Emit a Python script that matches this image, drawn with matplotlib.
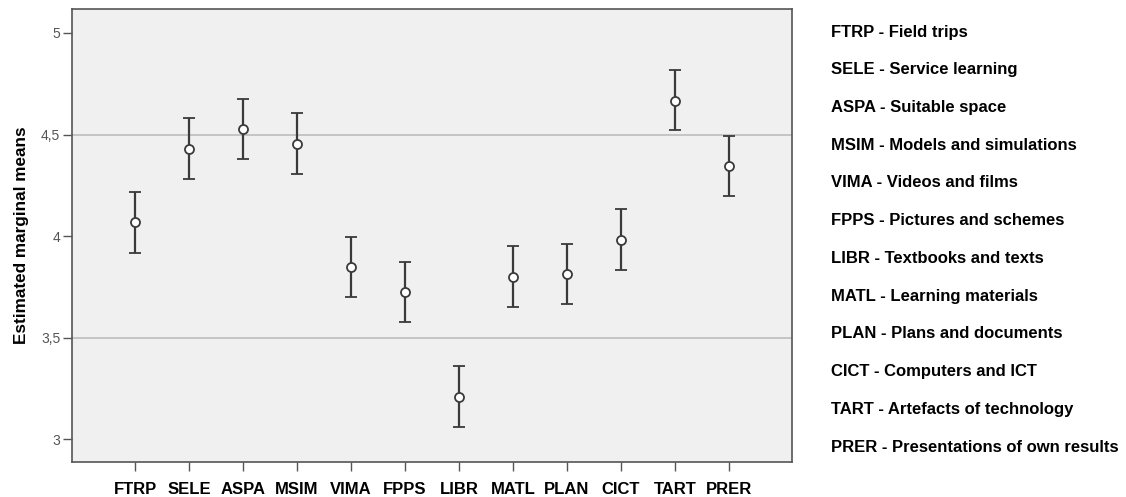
import matplotlib
matplotlib.use("Agg")
import matplotlib.pyplot as plt
import numpy as np

categories = ["FTRP", "SELE", "ASPA", "MSIM", "VIMA", "FPPS", "LIBR", "MATL", "PLAN", "CICT", "TART", "PRER"]
descriptions = ["Field trips", "Service learning", "Suitable space", "Models and simulations",
                "Videos and films", "Pictures and schemes", "Textbooks and texts", "Learning materials",
                "Plans and documents", "Computers and ICT", "Artefacts of technology",
                "Presentations of own results"]
means = [4.067, 4.428, 4.527, 4.454, 3.848, 3.725, 3.210, 3.801, 3.815, 3.982, 4.667, 4.346]
lower = [3.916, 4.280, 4.379, 4.305, 3.698, 3.575, 3.062, 3.651, 3.665, 3.834, 4.520, 4.199]
upper = [4.216, 4.579, 4.674, 4.605, 3.995, 3.874, 3.360, 3.951, 3.962, 4.131, 4.817, 4.494]
yticks = [3, 3.5, 4, 4.5, 5]
ytick_labels = ["3", "3,5", "4", "4,5", "5"]
ref_lines = [3.5, 4.5]

plt.rcParams['font.family'] = ['Liberation Sans', 'DejaVu Sans']

W, H = 1126, 497
fig = plt.figure(figsize=(W / 100, H / 100), dpi=100)
ax = fig.add_axes([72 / W, 1 - 462 / H, (792 - 72) / W, (462 - 9) / H])
ax.set_facecolor("#f0f0f0")

x = np.arange(len(categories))
m = np.array(means)
yerr = np.vstack([m - np.array(lower), np.array(upper) - m])

for r in ref_lines:
    ax.axhline(r, color="#c4c4c4", lw=1.4, zorder=1)

ax.errorbar(x, m, yerr=yerr, fmt='o', ms=6.5, mfc='white', mec='#3a3a3a', mew=1.3,
            ecolor='#3a3a3a', elinewidth=1.6, capsize=4.5, capthick=1.6, zorder=3)

ax.set_xlim(-1.17, len(categories) - 1 + 1.17)
ax.set_ylim(2.888, 5.118)
ax.set_xticks(x)
ax.set_xticklabels(categories, fontsize=12, fontweight='bold', color='black')
ax.set_yticks(yticks)
ax.set_yticklabels(ytick_labels, fontsize=10, color='#555555')
ax.tick_params(axis='both', direction='out', length=6.5, width=1.0, color='#555555')
ax.tick_params(axis='x', pad=8)
ax.tick_params(axis='y', pad=2)
for s in ax.spines.values():
    s.set_color('#555555')
    s.set_linewidth(1.2)

fig.text(22 / W, 1 - 235 / H, "Estimated marginal means", rotation=90, fontsize=12.3,
         fontweight='bold', ha='center', va='center')

y0, y1 = 32, 447
n = len(categories)
for i, (c, d) in enumerate(zip(categories, descriptions)):
    yc = y0 + (y1 - y0) * i / (n - 1)
    fig.text(831 / W, 1 - yc / H, f"{c} - {d}", fontsize=12, fontweight='bold',
             ha='left', va='center', color='black')

fig.savefig("out.png", dpi=100)
